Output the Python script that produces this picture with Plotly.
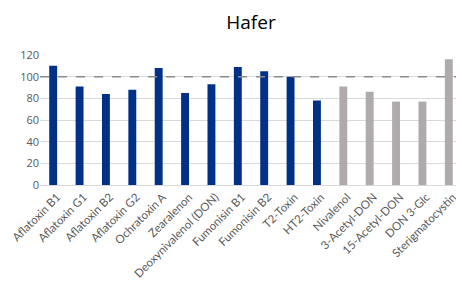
import plotly.graph_objects as go

categories = ["Aflatoxin B1", "Aflatoxin G1", "Aflatoxin B2", "Aflatoxin G2", "Ochratoxin A",
              "Zearalenon", "Deoxynivalenol (DON)", "Fumonisin B1", "Fumonisin B2", "T2-Toxin",
              "HT2-Toxin", "Nivalenol", "3-Acetyl-DON", "15-Acetyl-DON", "DON 3-Glc", "Sterigmatocystin"]
values = [110, 91, 84, 88, 108, 85, 93, 109, 105, 100, 78, 91, 86, 77, 77, 116]
colors = ["#003087"] * 11 + ["#AFABAB"] * 5
tick_vals = [0, 20, 40, 60, 80, 100, 120]
ref_value = 100

fig = go.Figure()
fig.add_trace(go.Bar(x=categories, y=values, marker=dict(color=colors, line=dict(width=0)),
                     width=0.3))
fig.add_shape(type="line", xref="paper", yref="y", x0=0, x1=1, y0=ref_value, y1=ref_value,
              line=dict(color="#8C8C8C", width=1.5, dash="dash"))
fig.update_layout(
    width=456, height=274,
    margin=dict(l=32, r=2, t=47, b=97, autoexpand=False),
    paper_bgcolor="white", plot_bgcolor="white",
    title=dict(text="Hafer", x=0.5, xanchor="center", xref="paper", y=0.949, yanchor="middle",
               font=dict(size=19, color="#000000", family="Open Sans")),
    font=dict(family="Open Sans", size=11, color="#595959"),
    showlegend=False,
    xaxis=dict(tickangle=-45, showgrid=False, showline=True, linecolor="#D9D9D9",
               automargin=False, ticklabelshift=4,
               tickfont=dict(size=11.5, color="#595959", family="Lato")),
    yaxis=dict(range=[0, 120], tickvals=tick_vals, showgrid=True, gridcolor="#D9D9D9",
               automargin=False, zeroline=False, tickfont=dict(size=11, color="#595959")),
)
fig.write_html("out.html")
